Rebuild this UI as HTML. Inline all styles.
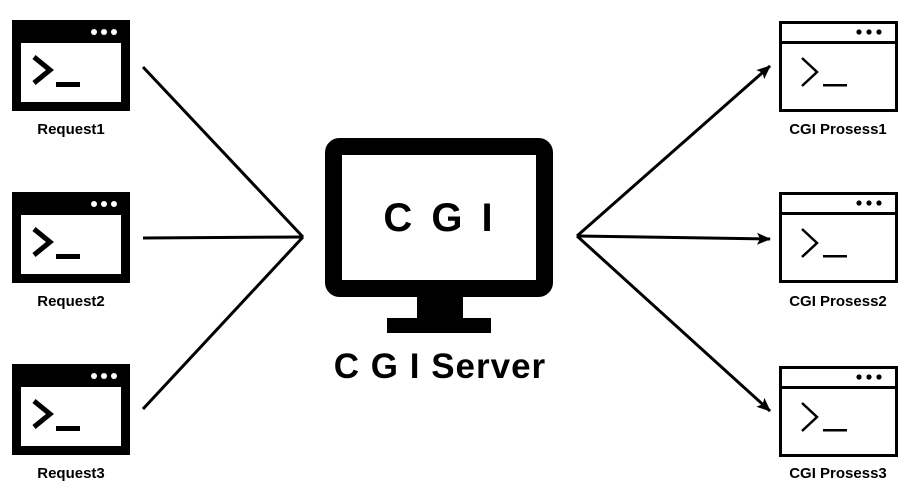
<!DOCTYPE html>
<html><head><meta charset="utf-8"><style>
html,body{margin:0;padding:0;background:#fff;}
svg{display:block}
text{font-family:"Liberation Sans","Noto Sans CJK KR",sans-serif;font-weight:bold;fill:#000}
</style></head><body>
<svg width="909" height="501" viewBox="0 0 909 501">
<defs>
<marker id="ah" markerWidth="14" markerHeight="14" refX="13" refY="7" orient="auto" markerUnits="userSpaceOnUse">
<path d="M0,1 L14,7 L0,13 L3,7 z" fill="#000"/>
</marker>
<g id="L">
<rect x="12" y="0" width="118" height="91" fill="#000"/>
<rect x="21" y="23" width="100" height="59" fill="#fff"/>
<circle cx="94" cy="12" r="3" fill="#fff"/><circle cx="104" cy="12" r="3" fill="#fff"/><circle cx="114" cy="12" r="3" fill="#fff"/>
<path d="M34,37 L50,50 L34,63" fill="none" stroke="#000" stroke-width="5"/>
<rect x="56" y="62" width="24" height="5" fill="#000"/>
</g>
<g id="R">
<rect x="780.5" y="1.5" width="116" height="88" fill="none" stroke="#000" stroke-width="3"/>
<line x1="780" y1="21.5" x2="897" y2="21.5" stroke="#000" stroke-width="3"/>
<circle cx="859" cy="11" r="2.6" fill="#000"/><circle cx="869" cy="11" r="2.6" fill="#000"/><circle cx="879" cy="11" r="2.6" fill="#000"/>
<path d="M802,37 L817,51 L802,65" fill="none" stroke="#000" stroke-width="2.5"/>
<rect x="823" y="63" width="24" height="2.5" fill="#000"/>
</g>
</defs>
<use href="#L" y="20"/>
<use href="#L" y="192"/>
<use href="#L" y="364"/>
<text x="71" y="134" font-size="15" text-anchor="middle">Request1</text>
<text x="71" y="306" font-size="15" text-anchor="middle">Request2</text>
<text x="71" y="478" font-size="15" text-anchor="middle">Request3</text>

<use href="#R" y="21"/>
<use href="#R" y="192"/>
<use href="#R" y="366"/>
<text x="838" y="134" font-size="15" text-anchor="middle">CGI Prosess1</text>
<text x="838" y="306" font-size="15" text-anchor="middle">CGI Prosess2</text>
<text x="838" y="478" font-size="15" text-anchor="middle">CGI Prosess3</text>

<g stroke="#000" stroke-width="3" fill="none">
<line x1="143" y1="67" x2="303" y2="237"/>
<line x1="143" y1="238" x2="303" y2="237"/>
<line x1="143" y1="409" x2="303" y2="237"/>
<line x1="577" y1="236" x2="770" y2="66" marker-end="url(#ah)"/>
<line x1="577" y1="236" x2="770" y2="239" marker-end="url(#ah)"/>
<line x1="577" y1="236" x2="770" y2="411" marker-end="url(#ah)"/>
</g>

<rect x="333.5" y="146.5" width="211" height="142" rx="6" fill="#fff" stroke="#000" stroke-width="17"/>
<rect x="417" y="296" width="46" height="23" fill="#000"/>
<rect x="387" y="318" width="104" height="15" fill="#000"/>
<text x="440" y="231" font-size="40" text-anchor="middle" letter-spacing="4">C G I</text>
<text x="440" y="378" font-size="35" text-anchor="middle" letter-spacing="1">C G I Server</text>
</svg>
</body></html>
